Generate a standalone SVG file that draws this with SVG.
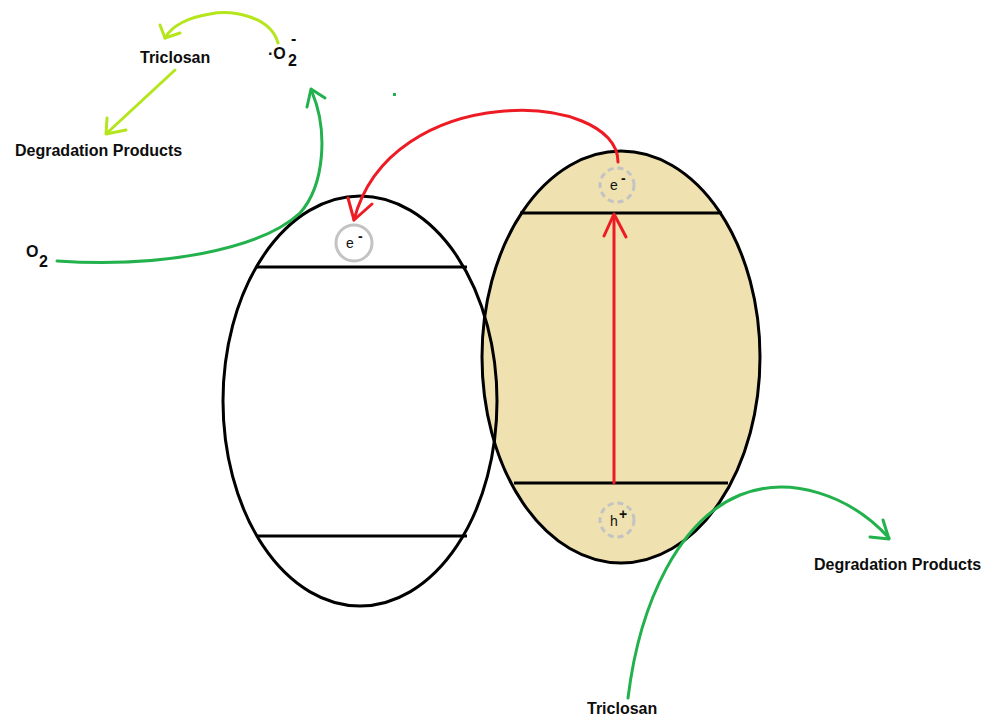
<svg xmlns="http://www.w3.org/2000/svg" width="992" height="717" viewBox="0 0 992 717">
<style>
.lbl{font-family:"Liberation Sans",Arial,sans-serif;font-weight:bold;font-size:16px;fill:#0d0d0d}
.sm{font-family:"Liberation Sans",Arial,sans-serif;font-size:14px;fill:#111}
.band{stroke:#000;stroke-width:3;fill:none}
.edge{fill:none;stroke-width:3;stroke-linecap:round;stroke-linejoin:round}
.red{stroke:#ed1c24}
.grn{stroke:#22b14c}
.lime{stroke:#b5e61d}
.solidc{fill:#fff;stroke:#c3c3c3;stroke-width:3}
.dashc{fill:none;stroke:#c3c3c3;stroke-width:3;stroke-dasharray:6 4}
</style>
<rect width="992" height="717" fill="#fff"/>
<g id="right-particle">
<ellipse cx="621" cy="357" rx="139" ry="206" fill="#efe1b0" stroke="#000" stroke-width="3"/>
<line class="band" x1="520" y1="213" x2="722" y2="213"/>
<line class="band" x1="514" y1="483" x2="728" y2="483"/>
</g>
<g id="left-particle">
<ellipse cx="360" cy="401" rx="137" ry="205" fill="none" stroke="#000" stroke-width="3"/>
<line class="band" x1="257" y1="267" x2="467" y2="267"/>
<line class="band" x1="257" y1="536" x2="467" y2="536"/>
</g>
<g id="connectors">
<path class="edge red" d="M618,162 C618,90 390,80 354,220"/>
<path class="edge red" d="M348,198 L354,220 L372,204"/>
<path class="edge red" d="M614,483 L614,215"/>
<path class="edge red" d="M604,236 L614,214 L626,237"/>
<path class="edge grn" d="M57,261 C160,268 260,250 300,213 C325,185 328,130 312,92"/>
<path class="edge grn" d="M307,107 L311,89 L325,98"/>
<path class="edge grn" d="M628,698 C640,600 680,520 740,495 C790,475 850,495 889,538"/>
<path class="edge grn" d="M883,520 L889,539 L870,537"/>
<path class="edge lime" d="M278,43 C270,15 230,10 210,14 C190,17 172,25 165,38"/>
<path class="edge lime" d="M160,25 L165,38 L180,33"/>
<path class="edge lime" d="M175,70 L107,133"/>
<path class="edge lime" d="M107,118 L106,134 L126,130"/>
<rect x="393" y="93" width="3" height="3" fill="#22b14c"/>
</g>
<g id="e-left">
<circle class="solidc" cx="354" cy="243" r="18"/>
<text class="sm" x="346" y="248">e</text>
<text class="sm" x="358" y="241" font-size="12" font-weight="bold">-</text>
</g>
<g id="e-right">
<circle class="dashc" cx="617" cy="185" r="17"/>
<text class="sm" x="610" y="190">e</text>
<text class="sm" x="621" y="183" font-size="12" font-weight="bold">-</text>
</g>
<g id="h-plus">
<circle class="dashc" cx="617" cy="520" r="17"/>
<text class="sm" x="610" y="526">h</text>
<text class="sm" x="619" y="519" font-size="13" font-weight="bold">+</text>
</g>
<g id="triclosan-top"><text class="lbl" x="140" y="63">Triclosan</text></g>
<g id="superoxide"><text class="lbl" x="268" y="59">·O</text><text class="lbl" x="288" y="66">2</text><text class="lbl" x="291" y="44">-</text></g>
<g id="degradation-top"><text class="lbl" x="15" y="156">Degradation Products</text></g>
<g id="o2"><text class="lbl" x="26" y="257">O</text><text class="lbl" x="39" y="267">2</text></g>
<g id="degradation-bottom"><text class="lbl" x="814" y="570">Degradation Products</text></g>
<g id="triclosan-bottom"><text class="lbl" x="587" y="714">Triclosan</text></g>
</svg>
